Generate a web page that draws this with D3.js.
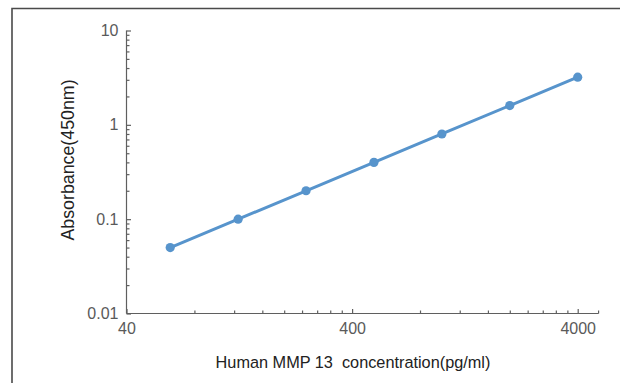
<!DOCTYPE html>
<html>
<head>
<meta charset="utf-8">
<script src="https://cdn.jsdelivr.net/npm/d3@7"></script>
<style>
  html, body { margin: 0; padding: 0; background: #fff; }
  svg { display: block; font-family: "Liberation Sans", Arial, sans-serif; }
</style>
</head>
<body>
<svg id="chart" width="620" height="383"></svg>
<script>
// standard curve points
const concentrations = [62.5, 125, 250, 500, 1000, 2000, 4000];
const absorbance = [0.05, 0.1, 0.2, 0.4, 0.8, 1.6, 3.2];

const xMajorTicks = [40, 400, 4000];
const yMajorTicks = [0.01, 0.1, 1, 10];
const xAxisEnd = 4950;

const xTitle = "Human MMP 13  concentration(pg/ml)";
const yTitle = "Absorbance(450nm)";

const svg = d3.select("#chart");

const x = d3.scaleLog().domain([40, 4000]).range([126.5, 577.7]);
const y = d3.scaleLog().domain([0.01, 10]).range([313.5, 30.5]);

// minor ticks: 2..9 times each decade start
function minorTicks(starts) {
  const out = [];
  starts.forEach(s => {
    for (let k = 2; k <= 9; k++) out.push(s * k);
  });
  return out;
}
const xMinor = minorTicks([40, 400]);
const yMinor = minorTicks([0.01, 0.1, 1]);

const axisColor = "#5f5f5f";
const labelColor = "#5a5a5a";
const tickFont = "16px";

// outer frame (only top and left edges are visible)
svg.append("path")
  .attr("d", "M12,383 L12,8.5 L620,8.5")
  .attr("fill", "none")
  .attr("stroke", "#4a4a4a")
  .attr("stroke-width", 1.6);

const y0 = y(0.01);
const x0 = x(40);

// x axis
const gx = svg.append("g").attr("transform", `translate(0,${y0})`);
gx.append("g")
  .call(d3.axisBottom(x).tickValues(xMinor).tickSizeInner(-3).tickSizeOuter(0).tickFormat(""))
  .call(g => g.select(".domain").remove());
gx.append("g")
  .call(d3.axisBottom(x).tickValues(xMajorTicks).tickSizeInner(-4.5).tickSizeOuter(0).tickPadding(9)
    .tickFormat(d => String(d)))
  .call(g => g.select(".domain").remove())
  .call(g => g.attr("font-size", null).attr("font-family", null))
  .call(g => g.selectAll("text").style("font-size", tickFont).attr("fill", labelColor));
gx.append("line")
  .attr("x1", x0).attr("x2", x(xAxisEnd))
  .attr("y1", 0).attr("y2", 0);
gx.append("line")
  .attr("x1", x(xAxisEnd)).attr("x2", x(xAxisEnd))
  .attr("y1", 0).attr("y2", -3);
gx.selectAll("line").attr("stroke", axisColor).attr("stroke-width", 1.2);

// y axis
const gy = svg.append("g").attr("transform", `translate(${x0},0)`);
gy.append("g")
  .call(d3.axisLeft(y).tickValues(yMinor).tickSizeInner(-3).tickSizeOuter(0).tickFormat(""))
  .call(g => g.select(".domain").remove());
gy.append("g")
  .call(d3.axisLeft(y).tickValues(yMajorTicks).tickSizeInner(-4.5).tickSizeOuter(0).tickPadding(8)
    .tickFormat(d => String(d)))
  .call(g => g.select(".domain").remove())
  .call(g => g.attr("font-size", null).attr("font-family", null))
  .call(g => g.selectAll("text").style("font-size", tickFont).attr("fill", labelColor));
gy.append("line")
  .attr("x1", 0).attr("x2", 0)
  .attr("y1", y(10)).attr("y2", y0);
gy.selectAll("line").attr("stroke", axisColor).attr("stroke-width", 1.2);

// series
const points = concentrations.map((c, i) => ({ c: c, v: absorbance[i] }));
const lineColor = "#5794cc";

svg.append("path")
  .datum(points)
  .attr("fill", "none")
  .attr("stroke", lineColor)
  .attr("stroke-width", 3)
  .attr("stroke-linejoin", "round")
  .attr("d", d3.line().x(d => x(d.c)).y(d => y(d.v)));

svg.selectAll(".pt")
  .data(points)
  .enter()
  .append("circle")
  .attr("class", "pt")
  .attr("cx", d => x(d.c))
  .attr("cy", d => y(d.v))
  .attr("r", 4.6)
  .attr("fill", lineColor);

// titles
svg.append("text")
  .attr("x", 353)
  .attr("y", 368)
  .attr("text-anchor", "middle")
  .attr("font-size", "16.3px")
  .attr("fill", "#222")
  .style("white-space", "pre")
  .text(xTitle);

svg.append("text")
  .attr("transform", "translate(74,160) rotate(-90)")
  .attr("text-anchor", "middle")
  .attr("font-size", "17.8px")
  .attr("fill", "#222")
  .text(yTitle);
</script>
</body>
</html>
